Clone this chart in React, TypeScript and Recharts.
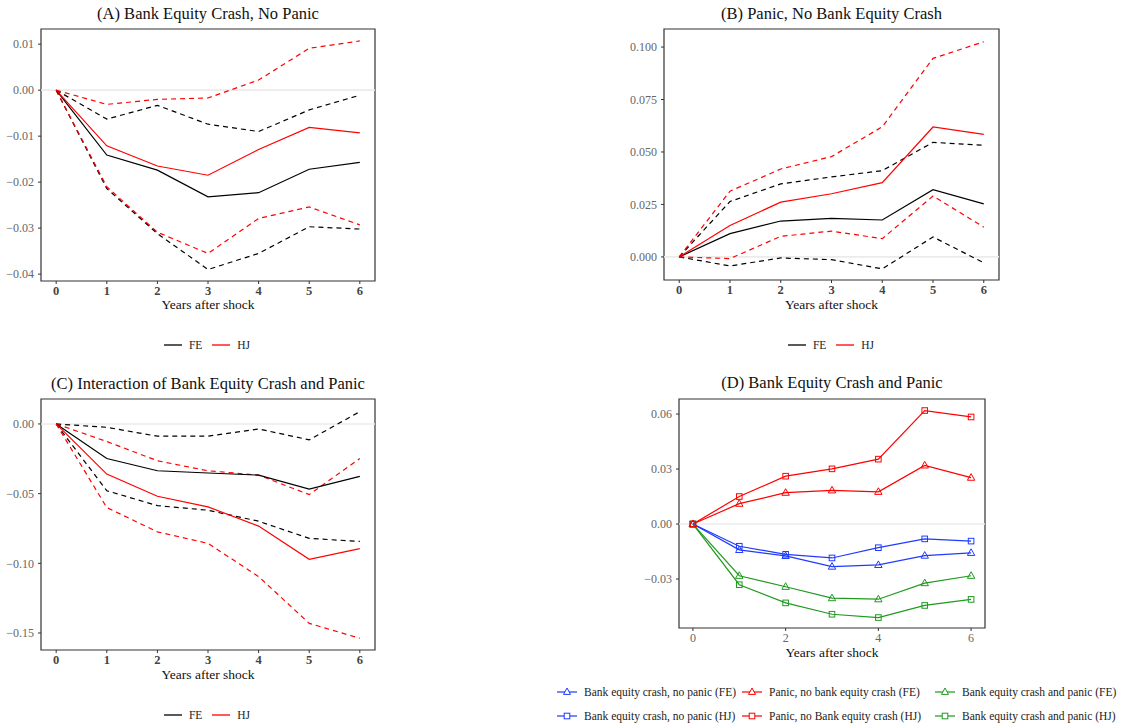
import React from 'react';
import { LineChart, Line, XAxis, YAxis, ReferenceLine, ReferenceArea } from 'recharts';

const years = [0, 1, 2, 3, 4, 5, 6];

// (A) bank equity crash, no panic
const aFE = [0, -0.0141, -0.0174, -0.0232, -0.0223, -0.0172, -0.0157];
const aFELo = [0, -0.0214, -0.0312, -0.039, -0.0355, -0.0297, -0.0302];
const aFEHi = [0, -0.0063, -0.0033, -0.0074, -0.009, -0.0043, -0.0011];
const aHJ = [0, -0.0121, -0.0165, -0.0185, -0.0129, -0.0081, -0.0093];
const aHJLo = [0, -0.021, -0.0309, -0.0355, -0.0279, -0.0254, -0.0293];
const aHJHi = [0, -0.0031, -0.002, -0.0017, 0.0022, 0.0091, 0.0107];

// (B) panic, no bank equity crash
const bFE = [0, 0.0111, 0.0171, 0.0184, 0.0176, 0.032, 0.0253];
const bFELo = [0, -0.0043, -0.0005, -0.0013, -0.0057, 0.0095, -0.0028];
const bFEHi = [0, 0.0264, 0.0348, 0.0381, 0.0411, 0.0546, 0.0532];
const bHJ = [0, 0.015, 0.0261, 0.0301, 0.0354, 0.0619, 0.0584];
const bHJLo = [0, -0.0008, 0.0098, 0.0123, 0.0087, 0.029, 0.0142];
const bHJHi = [0, 0.0313, 0.0419, 0.0478, 0.062, 0.0946, 0.1025];

// (C) interaction
const cFE = [0, -0.0248, -0.0336, -0.0352, -0.0367, -0.0467, -0.0376];
const cFELo = [0, -0.0479, -0.0586, -0.0619, -0.0698, -0.0821, -0.0843];
const cFEHi = [0, -0.0024, -0.0088, -0.0088, -0.0036, -0.0114, 0.0088];
const cHJ = [0, -0.036, -0.0519, -0.0595, -0.0733, -0.0971, -0.0895];
const cHJLo = [0, -0.06, -0.0774, -0.0857, -0.1095, -0.1431, -0.1538];
const cHJHi = [0, -0.0126, -0.0264, -0.0336, -0.0367, -0.0507, -0.0248];

// (D) crash and panic together
const dFE = [0, -0.0282, -0.0342, -0.0404, -0.041, -0.0322, -0.0282];
const dHJ = [0, -0.0331, -0.043, -0.0492, -0.051, -0.0444, -0.0411];

const ticksA = [-0.04, -0.03, -0.02, -0.01, 0, 0.01];
const ticksB = [0, 0.025, 0.05, 0.075, 0.1];
const ticksC = [-0.15, -0.1, -0.05, 0];
const ticksD = [-0.03, 0, 0.03, 0.06];
const xTicksD = [0, 2, 4, 6];

const legendD = [
  ['Bank equity crash, no panic (FE)', 'Panic, no bank equity crash (FE)', 'Bank equity crash and panic (FE)'],
  ['Bank equity crash, no panic (HJ)', 'Panic, no Bank equity crash (HJ)', 'Bank equity crash and panic (HJ)'],
];

const FONT = '"Liberation Serif", "Times New Roman", serif';
const BLUE = '#1f3bff';
const RED = '#ff0000';
const GREEN = '#1f9a1f';

const fmt = (d: number) => (v: number) => (v < 0 ? '\u2212' : '') + Math.abs(v).toFixed(d);

function rows(series: Record<string, number[]>) {
  return years.map((x, i) => {
    const r: any = { x };
    for (const k in series) r[k] = series[k][i];
    return r;
  });
}

const tri = (color: string) => (p: any) => (
  <path
    key={`t${p.index}`}
    d={`M${p.cx},${p.cy - 4}L${p.cx + 3.7},${p.cy + 2.6}L${p.cx - 3.7},${p.cy + 2.6}Z`}
    fill="none"
    stroke={color}
    strokeWidth={1}
  />
);
const sq = (color: string) => (p: any) => (
  <rect key={`s${p.index}`} x={p.cx - 2.8} y={p.cy - 2.8} width={5.6} height={5.6} fill="none" stroke={color} strokeWidth={1} />
);

type Box = { left: number; top: number; right: number; bottom: number };

function Panel(props: {
  box: Box;
  domain: [number, number];
  yTicks: number[];
  digits: number;
  data: any[];
  title: string;
  titleY: number;
  labelY: number;
  boldX?: boolean;
  xTicks?: number[];
  children: React.ReactNode;
}) {
  const { box, domain, yTicks, digits, data, title, titleY, labelY, boldX = true, xTicks = years } = props;
  const yW = 70;
  const w = yW + (box.right - box.left) + 12;
  const h = 12 + (box.bottom - box.top) + 30;
  const cx = (box.left + box.right) / 2;
  return (
    <>
      <div style={{ position: 'absolute', left: cx - 250, width: 500, top: titleY - 11, lineHeight: '22px', textAlign: 'center', fontSize: 16.5, color: '#111' }}>
        {title}
      </div>
      <div style={{ position: 'absolute', left: box.left - yW, top: box.top - 12 }}>
        <LineChart width={w} height={h} data={data} margin={{ top: 12, right: 12, left: 0, bottom: 0 }}>
          <ReferenceLine y={0} stroke="#ebebeb" strokeWidth={1.6} />
          <XAxis
            type="number"
            dataKey="x"
            domain={[-0.3, 6.3]}
            ticks={xTicks}
            allowDataOverflow
            axisLine={false}
            tickSize={3}
            tickMargin={2}
            height={30}
            tickLine={{ stroke: '#333' }}
            tick={{ fontSize: boldX ? 12.5 : 12, fontWeight: boldX ? 700 : 400, fill: boldX ? '#444' : '#666', fontFamily: FONT }}
          />
          <YAxis
            type="number"
            domain={domain}
            ticks={yTicks}
            allowDataOverflow
            axisLine={false}
            width={yW}
            tickSize={3}
            tickMargin={4}
            tickLine={{ stroke: '#333' }}
            tickFormatter={fmt(digits)}
            tick={{ fontSize: 12, fill: '#666', fontFamily: FONT }}
          />
          <ReferenceArea x1={-0.3} x2={6.3} y1={domain[0]} y2={domain[1]} fill="none" stroke="#333" strokeWidth={1.2} />
          {props.children}
        </LineChart>
      </div>
      <div style={{ position: 'absolute', left: cx - 100, width: 200, top: labelY - 9, lineHeight: '18px', textAlign: 'center', fontSize: 13.5, color: '#111' }}>
        Years after shock
      </div>
    </>
  );
}

function bands(prefix: string) {
  const out: React.ReactNode[] = [];
  const spec: [string, string, boolean][] = [
    ['FELo', '#000', true],
    ['FEHi', '#000', true],
    ['HJLo', RED, true],
    ['HJHi', RED, true],
    ['FE', '#000', false],
    ['HJ', RED, false],
  ];
  for (const [k, c, dash] of spec) {
    out.push(
      <Line
        key={prefix + k}
        type="linear"
        dataKey={k}
        stroke={c}
        strokeWidth={1.2}
        strokeDasharray={dash ? '5 4' : undefined}
        dot={false}
        isAnimationActive={false}
      />
    );
  }
  return out;
}

function FeHjLegend({ cx, cy }: { cx: number; cy: number }) {
  const item = (color: string, label: string) => (
    <span style={{ display: 'inline-flex', alignItems: 'center', marginRight: 10 }}>
      <svg width={18} height={6} style={{ marginRight: 7, flexShrink: 0 }}>
        <line x1={0} y1={3} x2={18} y2={3} stroke={color} strokeWidth={1.3} />
      </svg>
      <span>{label}</span>
    </span>
  );
  return (
    <div style={{ position: 'absolute', left: cx - 100, width: 200, top: cy - 8, height: 16, display: 'flex', justifyContent: 'center', alignItems: 'center', fontSize: 11.5, color: '#222' }}>
      {item('#000', 'FE')}
      {item(RED, 'HJ')}
    </div>
  );
}

function MarkerIcon({ color, shape }: { color: string; shape: 'tri' | 'sq' }) {
  return (
    <svg width={20} height={10} style={{ marginRight: 7, flexShrink: 0 }}>
      <line x1={0} y1={5} x2={20} y2={5} stroke={color} strokeWidth={1.2} />
      {shape === 'tri' ? (
        <path d="M10,1L13.5,7.4L6.5,7.4Z" fill="white" stroke={color} strokeWidth={1} />
      ) : (
        <rect x={7.2} y={2.2} width={5.6} height={5.6} fill="white" stroke={color} strokeWidth={1} />
      )}
    </svg>
  );
}

const colWidths = [185, 193, 190];

export default function App() {
  const dataA = rows({ FE: aFE, FELo: aFELo, FEHi: aFEHi, HJ: aHJ, HJLo: aHJLo, HJHi: aHJHi });
  const dataB = rows({ FE: bFE, FELo: bFELo, FEHi: bFEHi, HJ: bHJ, HJLo: bHJLo, HJHi: bHJHi });
  const dataC = rows({ FE: cFE, FELo: cFELo, FEHi: cFEHi, HJ: cHJ, HJLo: cHJLo, HJHi: cHJHi });
  const dataD = rows({ blueFE: aFE, blueHJ: aHJ, redFE: bFE, redHJ: bHJ, greenFE: dFE, greenHJ: dHJ });
  const colors = [BLUE, RED, GREEN];

  const dLine = (k: string, color: string, shape: 'tri' | 'sq') => (
    <Line
      key={k}
      type="linear"
      dataKey={k}
      stroke={color}
      strokeWidth={1.2}
      dot={shape === 'tri' ? tri(color) : sq(color)}
      isAnimationActive={false}
    />
  );

  return (
    <div style={{ position: 'absolute', left: 0, top: 0, width: 1126, height: 725, background: '#fff', fontFamily: FONT, overflow: 'hidden' }}>
      <style>{`.recharts-wrapper text { font-family: ${FONT} !important; }`}</style>
      <Panel
        box={{ left: 41, top: 29, right: 375, bottom: 281 }}
        domain={[-0.0415, 0.0133]}
        yTicks={ticksA}
        digits={2}
        data={dataA}
        title="(A) Bank Equity Crash, No Panic"
        titleY={14}
        labelY={305}
      >
        {bands('a')}
      </Panel>
      <FeHjLegend cx={212} cy={345} />

      <Panel
        box={{ left: 664, top: 29, right: 999, bottom: 280 }}
        domain={[-0.011, 0.1086]}
        yTicks={ticksB}
        digits={3}
        data={dataB}
        title="(B) Panic, No Bank Equity Crash"
        titleY={14}
        labelY={305}
      >
        {bands('b')}
      </Panel>
      <FeHjLegend cx={836} cy={345} />

      <Panel
        box={{ left: 41, top: 399, right: 375, bottom: 650 }}
        domain={[-0.1622, 0.0179]}
        yTicks={ticksC}
        digits={2}
        data={dataC}
        title="(C) Interaction of Bank Equity Crash and Panic"
        titleY={384}
        labelY={675}
      >
        {bands('c')}
      </Panel>
      <FeHjLegend cx={212} cy={715} />

      <Panel
        box={{ left: 679, top: 399, right: 985, bottom: 628 }}
        domain={[-0.0567, 0.0682]}
        yTicks={ticksD}
        digits={2}
        data={dataD}
        title="(D) Bank Equity Crash and Panic"
        titleY={383}
        labelY={653}
        boldX={false}
        xTicks={xTicksD}
      >
        {dLine('blueHJ', BLUE, 'sq')}
        {dLine('blueFE', BLUE, 'tri')}
        {dLine('greenHJ', GREEN, 'sq')}
        {dLine('greenFE', GREEN, 'tri')}
        {dLine('redHJ', RED, 'sq')}
        {dLine('redFE', RED, 'tri')}
      </Panel>

      {legendD.map((row, ri) => (
        <div key={ri} style={{ position: 'absolute', left: 557, top: (ri === 0 ? 692 : 716) - 8, height: 16, display: 'flex', alignItems: 'center', fontSize: 11.5, color: '#222', whiteSpace: 'nowrap' }}>
          {row.map((label, ci) => (
            <span key={ci} style={{ display: 'inline-flex', alignItems: 'center', width: colWidths[ci], flexShrink: 0 }}>
              <MarkerIcon color={colors[ci]} shape={ri === 0 ? 'tri' : 'sq'} />
              <span>{label}</span>
            </span>
          ))}
        </div>
      ))}
    </div>
  );
}
